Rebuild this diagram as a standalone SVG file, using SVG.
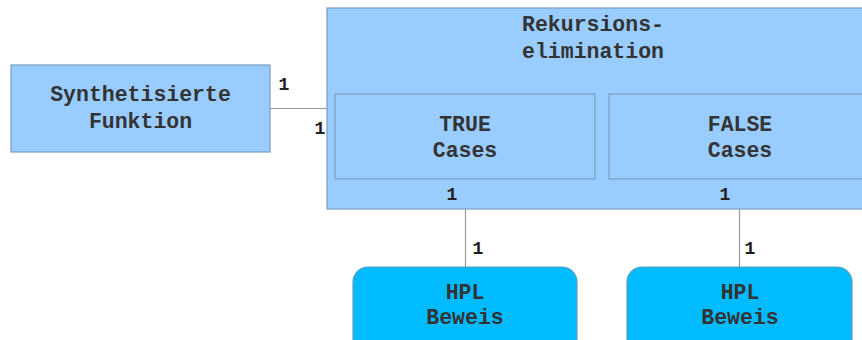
<svg xmlns="http://www.w3.org/2000/svg" width="862" height="340" viewBox="0 0 862 340">
  <style>
    .cls { fill: #99ccff; stroke: #7a9cc0; stroke-width: 1.2; }
    .inner { fill: #99ccff; stroke: #7f9fbf; stroke-width: 1.2; }
    .proof { fill: #00bbff; stroke: #5f9fb8; stroke-width: 1.2; }
    .t { font-family: "Liberation Mono", "Courier New", monospace; font-size: 21.5px; font-weight: bold; fill: #333; text-anchor: middle; }
    .m { font-family: "Liberation Mono", "Courier New", monospace; font-size: 18px; font-weight: bold; fill: #222; text-anchor: middle; }
    .edge { stroke: #999; stroke-width: 1.2; fill: none; }
  </style>
  <rect width="862" height="340" fill="#ffffff"/>

  <g id="connectors">
    <line class="edge" x1="270" y1="108.5" x2="328" y2="108.5"/>
    <line class="edge" x1="465.5" y1="179" x2="465.5" y2="267"/>
    <line class="edge" x1="739.5" y1="179" x2="739.5" y2="267"/>
  </g>

  <g id="synthetisierte-funktion">
    <rect class="cls" x="11" y="65" width="259" height="87"/>
    <text class="t" x="140.5" y="101">Synthetisierte</text>
    <text class="t" x="140.5" y="128">Funktion</text>
  </g>

  <g id="rekursionselimination">
    <rect class="cls" x="327" y="8" width="545" height="201"/>
    <text class="t" x="593" y="31">Rekursions-</text>
    <text class="t" x="593" y="58">elimination</text>
  </g>

  <g id="true-cases">
    <rect class="inner" x="335" y="94" width="260" height="85"/>
    <text class="t" x="465" y="131">TRUE</text>
    <text class="t" x="465" y="157">Cases</text>
  </g>

  <g id="false-cases">
    <rect class="inner" x="609" y="94" width="260" height="85"/>
    <text class="t" x="740" y="131">FALSE</text>
    <text class="t" x="740" y="157">Cases</text>
  </g>

  <g id="hpl-beweis-true">
    <rect class="proof" x="353" y="267" width="224" height="90" rx="15" ry="15"/>
    <text class="t" x="465" y="299">HPL</text>
    <text class="t" x="465" y="324">Beweis</text>
  </g>

  <g id="hpl-beweis-false">
    <rect class="proof" x="627" y="267" width="225" height="90" rx="15" ry="15"/>
    <text class="t" x="740" y="299">HPL</text>
    <text class="t" x="740" y="324">Beweis</text>
  </g>

  <g id="multiplicities">
    <text class="m" x="284" y="90">1</text>
    <text class="m" x="320" y="134">1</text>
    <text class="m" x="452" y="200">1</text>
    <text class="m" x="725" y="200">1</text>
    <text class="m" x="478" y="254">1</text>
    <text class="m" x="750" y="254">1</text>
  </g>
</svg>
